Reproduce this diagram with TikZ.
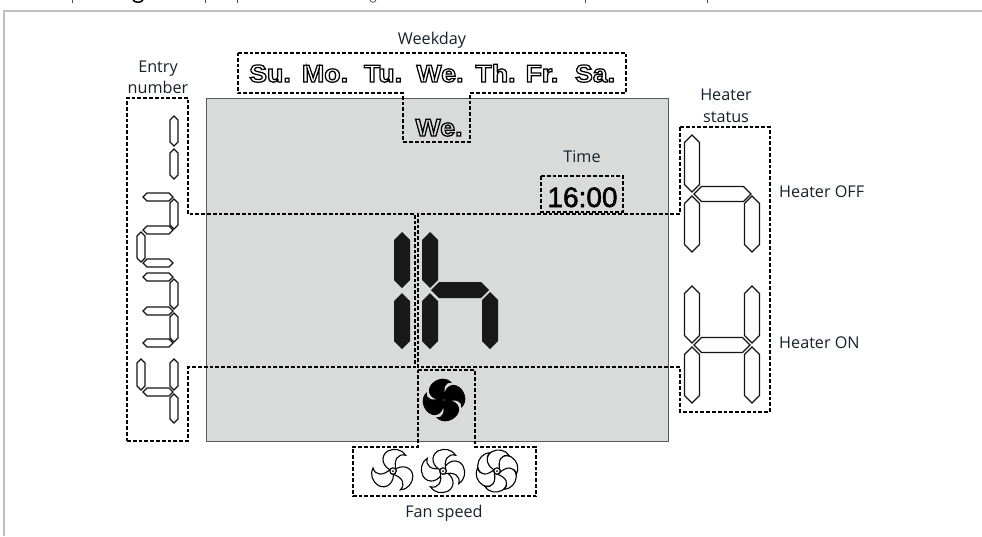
\documentclass[tikz,border=0pt]{standalone}
\usepackage{fontspec}
\setmainfont{Open Sans}
\newfontfamily\lcdbold{Liberation Sans Bold}[FakeStretch=1.09]
\newfontfamily\lcdreg{Liberation Sans}
\definecolor{lcd}{HTML}{D9DBDA}
\definecolor{labelc}{HTML}{18212B}
\newcommand{\otxt}[1]{\special{pdf:code 1 Tr 1.25 w}{\lcdbold\fontsize{24.5}{24.5}\selectfont #1}\special{pdf:code 0 Tr}}
\newcommand{\ftxt}[1]{\special{pdf:code 2 Tr 0.5 w}{\lcdreg\fontsize{28}{28}\selectfont #1}\special{pdf:code 0 Tr}}
% vertical hexagon segment: x, y1, y2, half width
\newcommand{\vseg}[5][segline]{\draw[#1] (#2-#5,#3+#5) -- (#2,#3) -- (#2+#5,#3+#5) -- (#2+#5,#4-#5) -- (#2,#4) -- (#2-#5,#4-#5) -- cycle;}
% horizontal hexagon segment: x1, x2, y, half height
\newcommand{\hseg}[5][segline]{\draw[#1] (#2,#4) -- (#2+#5,#4-#5) -- (#3-#5,#4-#5) -- (#3,#4) -- (#3-#5,#4+#5) -- (#2+#5,#4+#5) -- cycle;}
\newcommand{\bladeshape}{(0,0) .. controls (-10,-3) and (-13,-14) .. (-5,-19) .. controls (1,-22) and (8,-21) .. (12,-15) .. controls (5,-17) and (0,-11) .. (3,0) -- cycle}
\newcommand{\blackblade}{(0,0) .. controls (-12,-3) and (-15,-14) .. (-6,-19) .. controls (2,-23) and (11,-20) .. (13,-13) .. controls (7,-17) and (2,-11) .. (3,0) -- cycle}
\newcommand{\fan}[4]{% x y count scale
 \foreach \k in {1,...,#3}{\draw[fanline,shift={(#1,#2)},rotate=\k*360/#3,scale=#4] \bladeshape;}
 \draw[fanline,fill=white] (#1,#2) circle (3.2);
 \fill (#1,#2) circle (1);}
\tikzset{
 x=1pt,y=-1pt,
 segline/.style={draw=black!92,line width=1.2pt,line join=miter},
 segsmall/.style={draw=black!92,line width=1.35pt},
 segblack/.style={fill=black!90,draw=none},
 dashbox/.style={draw=black,line width=1.4pt,dash pattern=on 3.8pt off 2pt},
 fanline/.style={draw=black,fill=white,line width=1.1pt},
 lab/.style={text=labelc,font=\fontsize{16.2}{18}\selectfont,inner sep=0pt,anchor=base},
 daylab/.style={inner sep=0pt,anchor=base},
}
\begin{document}
\begin{tikzpicture}
\useasboundingbox (0,0) rectangle (982,536);
\fill[white] (0,0) rectangle (982,536);
% page frame
\draw[draw=black!25,line width=2.4pt] (982,11) -- (4,11) -- (4,536);
% clipped descenders of the text above
\foreach \xx in {72,205,237,585,707} \draw[black!70,line width=0.8pt] (\xx,0) -- (\xx,2.5);
\draw[black,line width=1.5pt] (133,0) .. controls (135,3) and (141,3) .. (143,0);
\draw[black!70,line width=0.8pt] (370,0) .. controls (371,3) and (375,3) .. (376,0);
% LCD panel
\draw[fill=lcd,draw=black!65,line width=1pt] (206,98) rectangle (668,441);
% big black digits
\vseg[segblack]{402}{232}{288}{8}
\vseg[segblack]{402}{293}{349}{8}
\vseg[segblack]{430}{232}{288}{8}
\vseg[segblack]{430}{293}{349}{8}
\hseg[segblack]{431}{489}{290}{8}
\vseg[segblack]{490}{292}{349}{8}
% entry digits
\vseg[segsmall]{174}{116}{146}{4}
\vseg[segsmall]{174}{149}{179}{4}
\hseg[segsmall]{143}{173}{197}{4}
\vseg[segsmall]{174}{199}{229}{4}
\hseg[segsmall]{143}{173}{230}{4}
\vseg[segsmall]{141}{232}{262}{4}
\hseg[segsmall]{143}{173}{263}{4}
\hseg[segsmall]{143}{173}{277}{4}
\vseg[segsmall]{174}{279}{309}{4}
\hseg[segsmall]{143}{173}{311}{4}
\vseg[segsmall]{174}{313}{342}{4}
\hseg[segsmall]{143}{173}{343}{4}
\vseg[segsmall]{141}{359}{390}{4}
\vseg[segsmall]{174}{359}{390}{4}
\hseg[segsmall]{143}{173}{392}{4}
\vseg[segsmall]{174}{394}{423}{4}
% heater status digits
\vseg{692}{135}{192}{7.5}
\vseg{692}{196}{252}{7.5}
\hseg{694}{751}{194}{7.5}
\vseg{752}{196}{252}{7.5}
\vseg{692}{286}{343}{7.5}
\vseg{692}{347}{403}{7.5}
\hseg{694}{750}{345}{7.5}
\vseg{752}{286}{343}{7.5}
\vseg{752}{347}{403}{7.5}
% dashed call-out outlines
\draw[dashbox] (127,441) -- (188,441) -- (188,367) -- (415,367) -- (415,214) -- (188,214) -- (188,98) -- (127,98) -- cycle;
\draw[dashbox] (680,127) -- (770,127) -- (770,412) -- (680,412) -- (680,367) -- (418,367) -- (418,214) -- (680,214) -- cycle;
\draw[dashbox] (238,53) -- (626,53) -- (626,93) -- (470,93) -- (470,142) -- (403,142) -- (403,93) -- (238,93) -- cycle;
\draw[dashbox] (541,176) -- (623,176) -- (623,212) -- (541,212) -- cycle;
\draw[dashbox] (418,370) -- (475,370) -- (475,447) -- (536,447) -- (536,496) -- (353,496) -- (353,447) -- (418,447) -- cycle;
% fans
\foreach \k in {1,2,3,4}{\fill[black,shift={(444,400)},rotate=\k*90+20,scale=1.02] \blackblade;}
\fill[lcd] (444,400) circle (0.7);
\fan{393}{471}{3}{1.05}
\fan{443}{471}{4}{1.05}
\fan{497}{471}{6}{1.02}
% weekday labels
\node[daylab] (su) at (270,82) {\otxt{Su.}};
\node[daylab] (mo) at (325,82) {\otxt{Mo.}};
\node[daylab] (tu) at (383,82) {\otxt{Tu.}};
\node[daylab] (we) at (440,82) {\otxt{We.}};
\node[daylab] (th) at (495.5,82) {\otxt{Th.}};
\node[daylab] (fr) at (542,82) {\otxt{Fr.}};
\node[daylab] (sa) at (595,82) {\otxt{Sa.}};
\node[daylab] (wetoday) at (439,136) {\otxt{We.}};
\node[inner sep=0pt,anchor=base] (clock) at (582.5,207) {\ftxt{16:00}};
% labels
\node[lab] (weekday) at (432,44) {Weekday};
\node[lab] (entry1) at (158,72) {Entry};
\node[lab] (entry2) at (158,93) {number};
\node[lab] (heat1) at (726,100) {Heater};
\node[lab] (heat2) at (726,122) {status};
\node[lab] (time) at (582,162) {Time};
\node[lab,anchor=base west] (off) at (779,197) {Heater OFF};
\node[lab,anchor=base west] (on) at (779,348) {Heater ON};
\node[lab] (fanspeed) at (444,517) {Fan speed};
\end{tikzpicture}
\end{document}
